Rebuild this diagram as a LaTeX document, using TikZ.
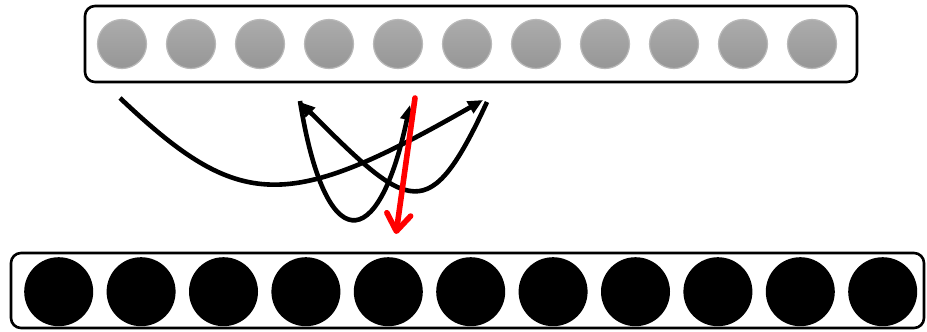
\documentclass[tikz,border=0pt]{standalone}
\usetikzlibrary{arrows.meta,shadings}
\definecolor{graytop}{RGB}{172,172,172}
\definecolor{graybot}{RGB}{150,150,150}
\definecolor{grayrim}{RGB}{185,185,185}
\tikzset{
  layerbox/.style={draw=black, line width=2.6pt, rounded corners=10pt, fill=white},
  graydot/.style={circle, minimum size=49pt, inner sep=0pt, top color=graytop, bottom color=graybot, draw=grayrim, line width=1.2pt},
  blackdot/.style={circle, minimum size=69pt, inner sep=0pt, fill=black, draw=none},
  blackarc/.style={line width=4.6pt, draw=black, -{Triangle[length=15pt,width=13pt]}},
  redarr/.style={line width=5.6pt, draw=red, line cap=round, -{Straight Barb[length=17pt,width=24pt,round]}}
}
\begin{document}
\begin{tikzpicture}[x=1pt,y=-1pt]
\useasboundingbox (0,0) rectangle (927,332);
% boxes
\draw[layerbox] (85,6) rectangle (857,82);
\node[inner sep=0pt, minimum width=772pt, minimum height=76pt] (top) at (471,44) {};
\draw[layerbox] (11,253) rectangle (924,328);
\node[inner sep=0pt, minimum width=913pt, minimum height=75pt] (bottom) at (467.5,290.5) {};
% circles
\foreach \i in {0,...,10} {
  \node[graydot] (g\i) at (122+69*\i,44) {};
  \node[blackdot] (b\i) at (58.7+82.4*\i,291.7) {};
}
% connector end points
\coordinate (c1s) at (120,98);
\coordinate (c1e) at (483,100);
\coordinate (c2s) at (487,102);
\coordinate (c2e) at (300,102);
\coordinate (c3s) at (300,101);
\coordinate (c3e) at (410,105);
\coordinate (rs) at (415,98);
\coordinate (re) at (396,234);
% curves
\draw[blackarc] (c1s) .. controls (240,212) and (287,212) .. (c1e);
\draw[blackarc] (c2s) .. controls (429,227) and (410,212) .. (c2e);
\draw[blackarc] (c3s) .. controls (325,257) and (378,257) .. (c3e);
\draw[redarr] (rs) -- (re);
\end{tikzpicture}
\end{document}
